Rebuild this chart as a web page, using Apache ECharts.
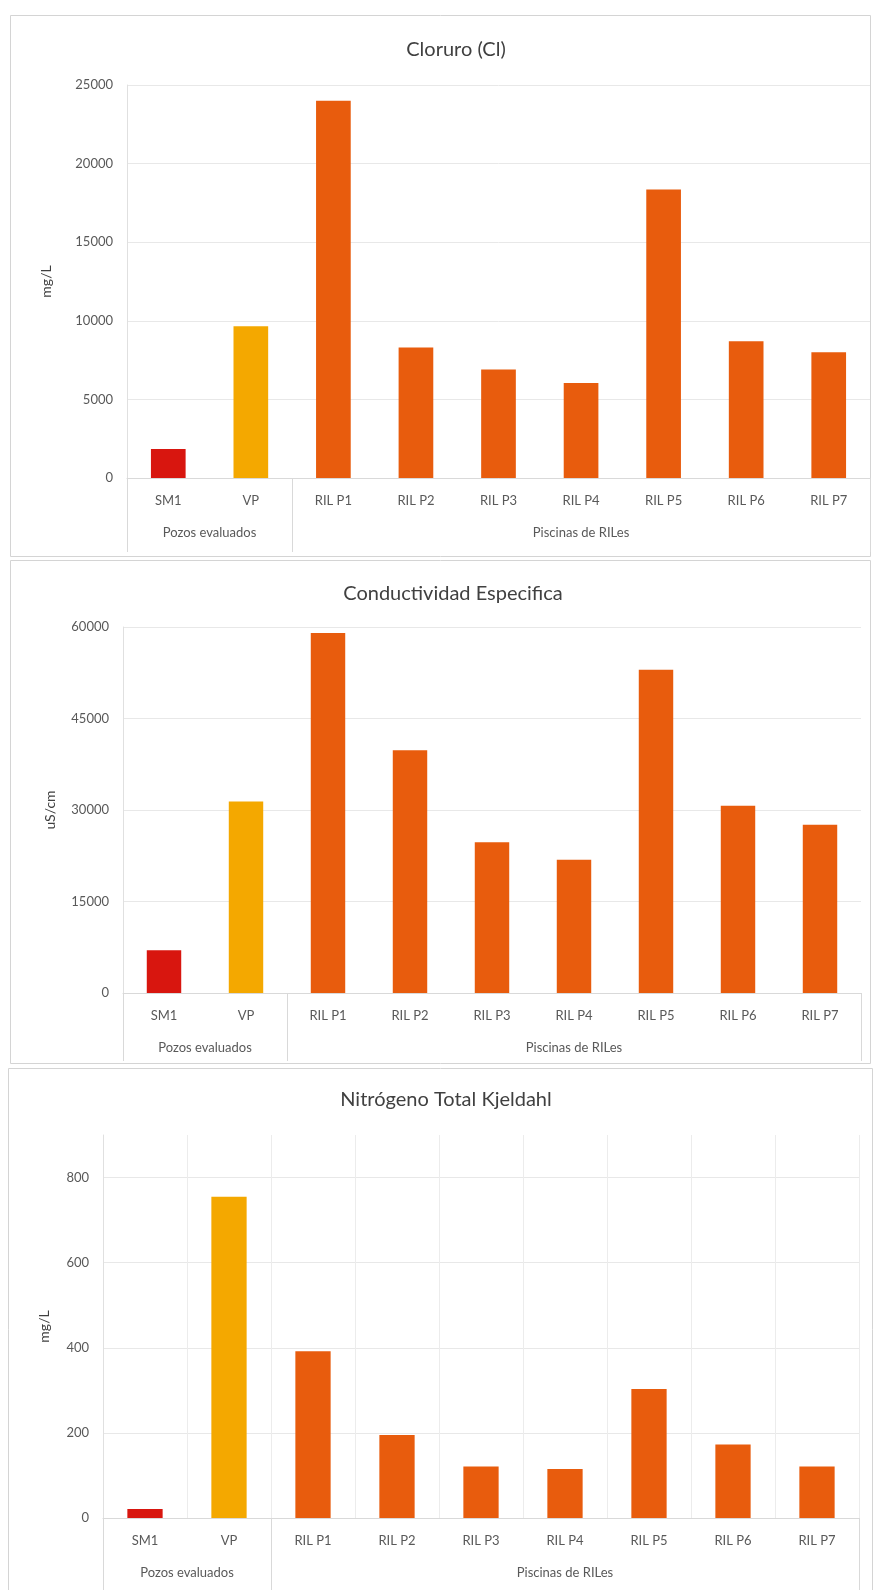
<!DOCTYPE html>
<html>
<head>
<meta charset="utf-8">
<script src="https://cdn.jsdelivr.net/npm/echarts@6/dist/echarts.min.js"></script>
<style>
html,body{margin:0;padding:0;background:#fff;}
#chart{width:880px;height:1590px;}
</style>
</head>
<body>
<div id="chart"></div>
<script>
// ---- data ----
const categories = ['SM1', 'VP', 'RIL P1', 'RIL P2', 'RIL P3', 'RIL P4', 'RIL P5', 'RIL P6', 'RIL P7'];
const groups = ['Pozos evaluados', 'Piscinas de RILes'];
const groupBounds = [0, 2, 9];
const groupCenters = [1, 5.5];
const cloruro = [1850, 9650, 24000, 8300, 6900, 6050, 18350, 8700, 8000];
const conductividad = [7000, 31400, 59000, 39800, 24700, 21850, 53000, 30700, 27600];
const nitrogeno = [21, 755, 392, 195, 121, 115, 303, 173, 121];
const titles = ['Cloruro (Cl)', 'Conductividad Especifica', 'Nitrógeno Total Kjeldahl'];
const yNames = ['mg/L', 'uS/cm', 'mg/L'];
const yMax = [25000, 60000, 900];
const yInterval = [5000, 15000, 200];
const barColors = ['#d8160f', '#f4a800', '#e85c0d', '#e85c0d', '#e85c0d', '#e85c0d', '#e85c0d', '#e85c0d', '#e85c0d'];

const FONT = 'Lato, "Open Sans", sans-serif';
const TXT = '#595959';
const seriesData = [cloruro, conductividad, nitrogeno];

// layout (pixels)
const grids = [
  {left: 127, right: 10, top: 85, height: 393},
  {left: 123, right: 19, top: 627, height: 366},
  {left: 103, right: 21, top: 1135, height: 383}
];
const nameGaps = [74, 66, 52];
const sepLen = [74, 68, 72];
const titlePos = [[456, 50], [453, 594], [446, 1100]];
const boxes = [[10, 15, 860, 541], [10, 560, 860, 503], [8, 1068, 864, 530]];

const option = {
  backgroundColor: '#ffffff',
  animation: false,
  textStyle: {fontFamily: FONT},
  grid: grids.map(g => Object.assign({containLabel: false}, g)),
  xAxis: [],
  yAxis: [],
  series: [],
  graphic: []
};

for (let i = 0; i < 3; i++) {
  // category axis
  option.xAxis.push({
    type: 'category', gridIndex: i, data: categories, position: 'bottom',
    axisLine: {show: true, lineStyle: {color: '#d9d9d9', width: 1}},
    axisTick: {show: false},
    axisLabel: {color: TXT, fontSize: 13, margin: 16, fontFamily: FONT, interval: 0},
    splitLine: {show: i === 2, lineStyle: {color: '#ececec', width: 1}}
  });
  // group axis (value positions 0..9 match the categories)
  option.xAxis.push({
    type: 'value', gridIndex: i, min: 0, max: 9, position: 'bottom',
    axisLine: {show: false},
    splitLine: {show: false},
    axisTick: {show: true, customValues: groupBounds, length: sepLen[i], lineStyle: {color: '#d9d9d9', width: 1}},
    axisLabel: {
      show: true, customValues: groupCenters, margin: 48, color: TXT, fontSize: 13, fontFamily: FONT,
      formatter: v => (Math.abs(v - groupCenters[0]) < 1e-6 ? groups[0] : groups[1])
    }
  });
  option.yAxis.push({
    type: 'value', gridIndex: i, min: 0, max: yMax[i], interval: yInterval[i],
    name: yNames[i], nameLocation: 'middle', nameGap: nameGaps[i], nameRotate: 90,
    nameTextStyle: {color: '#404040', fontSize: 14, fontFamily: FONT},
    axisLine: {show: true, lineStyle: {color: '#e0e0e0'}},
    axisTick: {show: false},
    axisLabel: {color: TXT, fontSize: 13, margin: 14, fontFamily: FONT, showMaxLabel: i !== 2,
      formatter: v => String(v)},
    splitLine: {show: true, showMaxLine: i !== 2, lineStyle: {color: '#e8e8e8', width: 1}}
  });
  option.series.push({
    type: 'bar', xAxisIndex: i * 2, yAxisIndex: i, barWidth: '42%',
    data: seriesData[i].map((v, k) => ({value: v, itemStyle: {color: barColors[k]}}))
  });
  option.graphic.push({
    type: 'text', x: titlePos[i][0], y: titlePos[i][1], silent: true,
    style: {text: titles[i], fill: '#404040', fontSize: 20, fontFamily: FONT, align: 'center', verticalAlign: 'middle'}
  });
  option.graphic.push({
    type: 'rect', silent: true, z: -10,
    shape: {x: boxes[i][0] + 0.5, y: boxes[i][1] + 0.5, width: boxes[i][2], height: boxes[i][3]},
    style: {fill: 'none', stroke: '#d4d4d4', lineWidth: 1}
  });
}

const chart = echarts.init(document.getElementById('chart'), null, {renderer: 'canvas'});
chart.setOption(option);
</script>
</body>
</html>
